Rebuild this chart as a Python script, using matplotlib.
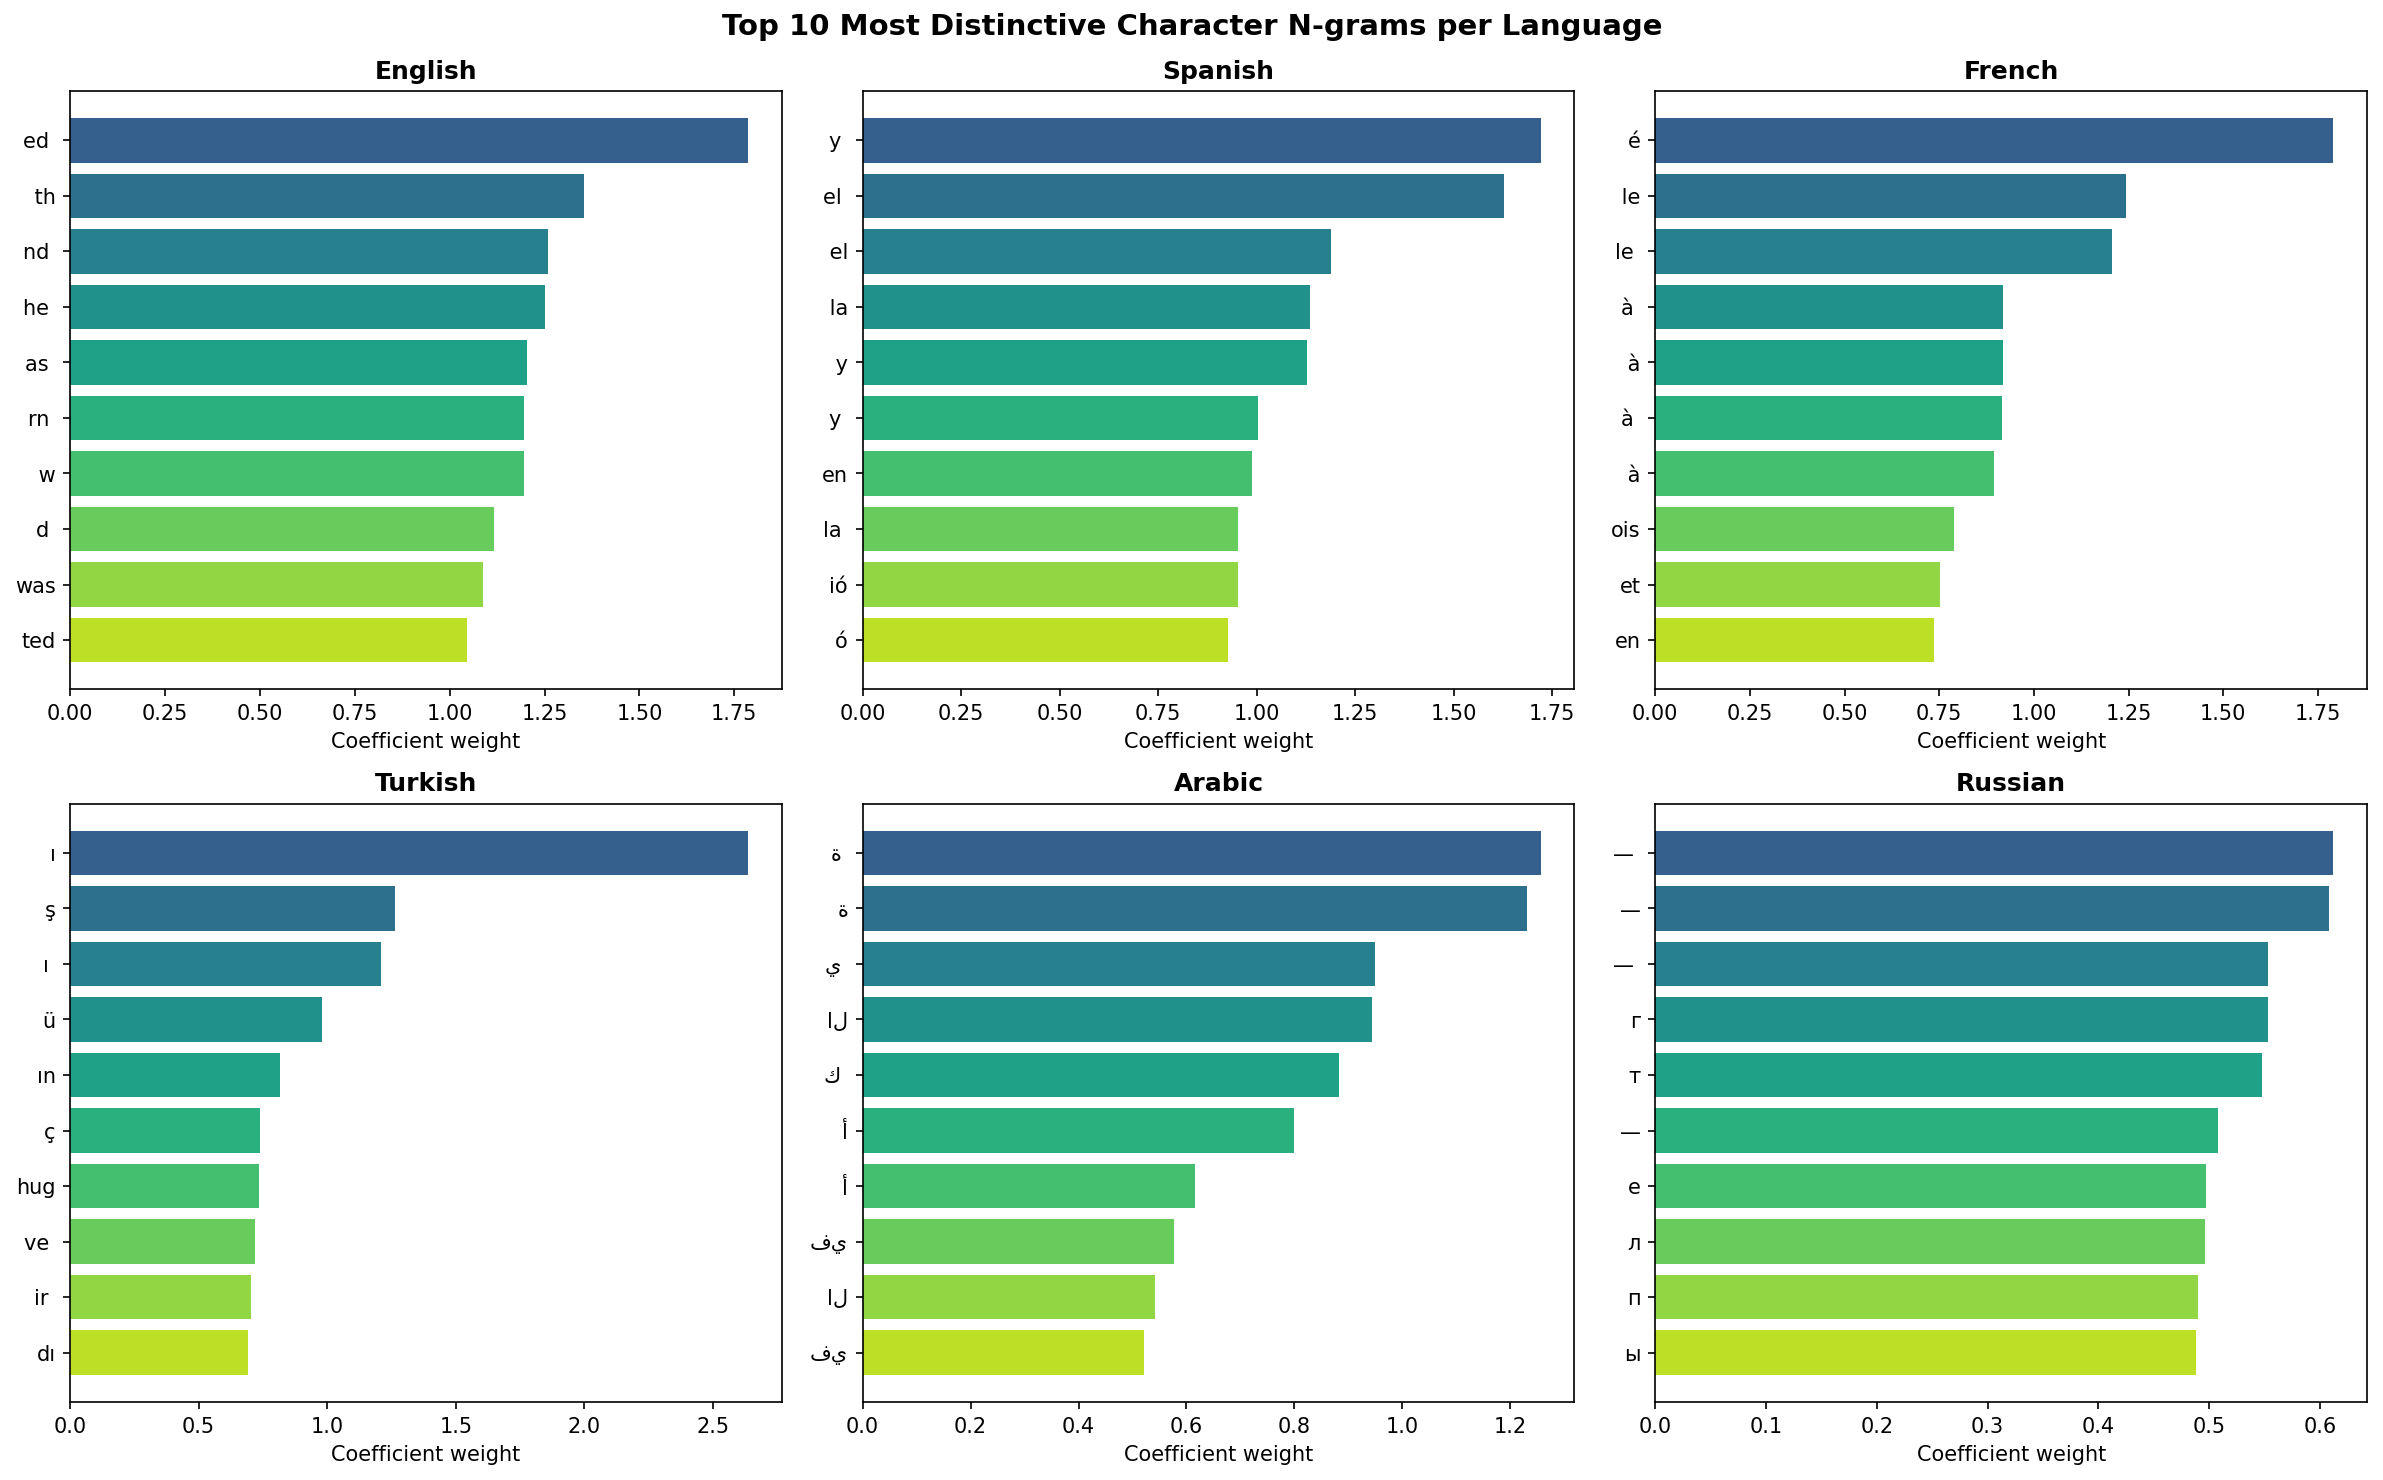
import numpy as np
import matplotlib
matplotlib.use('Agg')
import matplotlib.pyplot as plt

# 语言与每种语言的前10个n-gram（从上到下，按权重降序）
languages = ['English', 'Spanish', 'French', 'Turkish', 'Arabic', 'Russian']

english_ngrams = ['ed ', ' th', 'nd ', 'he ', 'as ', 'rn ', ' w', 'd ', 'was', 'ted']
english_weights = [1.786, 1.354, 1.258, 1.250, 1.205, 1.197, 1.196, 1.117, 1.089, 1.045]

spanish_ngrams = ['y ', 'el ', ' el', ' la', ' y', 'y ', 'en', 'la ', 'ió', 'ó']
spanish_weights = [1.720, 1.628, 1.188, 1.134, 1.127, 1.003, 0.988, 0.953, 0.952, 0.926]

french_ngrams = ['é', ' le', 'le ', 'à ', ' à', 'à ', ' à', 'ois', 'et', 'en']
french_weights = [1.790, 1.242, 1.205, 0.917, 0.917, 0.915, 0.895, 0.789, 0.753, 0.737]

turkish_ngrams = ['ı', 'ş', 'ı ', 'ü', 'ın', 'ç', 'hug', 've ', 'ir ', 'dı']
turkish_weights = [2.636, 1.265, 1.210, 0.981, 0.816, 0.739, 0.733, 0.721, 0.703, 0.692]

arabic_ngrams = ['ة ', 'ة', 'ي ', 'ال', 'ك ', 'أ', 'أ', 'في', 'ال', 'في']
arabic_weights = [1.256, 1.230, 0.949, 0.943, 0.882, 0.800, 0.615, 0.576, 0.541, 0.521]

russian_ngrams = ['— ', '—', '— ', 'г', 'т', '—', 'е', 'л', 'п', 'ы']
russian_weights = [0.612, 0.608, 0.553, 0.553, 0.548, 0.508, 0.497, 0.496, 0.490, 0.488]

all_ngrams = [english_ngrams, spanish_ngrams, french_ngrams,
              turkish_ngrams, arabic_ngrams, russian_ngrams]
all_weights = [english_weights, spanish_weights, french_weights,
               turkish_weights, arabic_weights, russian_weights]

plt.rcParams['font.family'] = ['DejaVu Sans']

fig, axes = plt.subplots(2, 3, figsize=(15.893, 9.867))
colors = plt.cm.viridis(np.linspace(0.3, 0.9, 10))

for ax, lang, ngrams, weights in zip(axes.flat, languages, all_ngrams, all_weights):
    y = np.arange(len(ngrams))
    ax.barh(y, weights, color=colors)
    ax.set_yticks(y)
    ax.set_yticklabels(ngrams)
    ax.invert_yaxis()
    ax.set_xlabel('Coefficient weight')
    ax.set_title(lang, fontweight='bold')

fig.suptitle('Top 10 Most Distinctive Character N-grams per Language',
             fontsize=14, fontweight='bold', y=0.991)
# 手动布局，贴近原图的紧凑边距
fig.subplots_adjust(left=0.0294, right=0.9929, top=0.9385, bottom=0.0527,
                    wspace=0.1136, hspace=0.1906)
plt.savefig('out.png', dpi=150)
